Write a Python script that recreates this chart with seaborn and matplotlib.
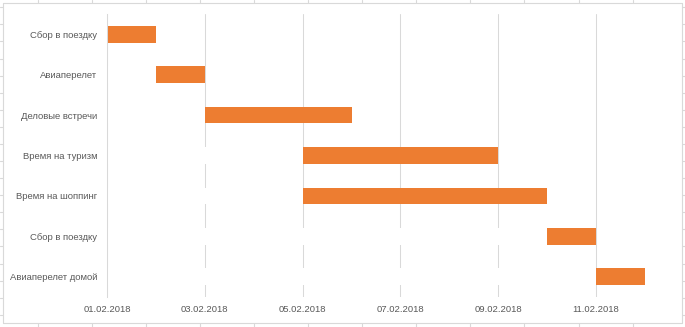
import matplotlib
matplotlib.use("Agg")
import matplotlib.pyplot as plt
import matplotlib.dates as mdates
from matplotlib.lines import Line2D
from matplotlib.patches import Rectangle
import seaborn as sns
import pandas as pd
import numpy as np

# ---- data ----
tasks = ["Сбор в поездку", "Авиаперелет", "Деловые встречи", "Время на туризм",
         "Время на шоппинг", "Сбор в поездку", "Авиаперелет домой"]
start_dates = ["2018-02-01", "2018-02-02", "2018-02-03", "2018-02-05",
               "2018-02-05", "2018-02-10", "2018-02-11"]
durations = [1, 1, 3, 4, 5, 1, 1]
axis_min = "2018-02-01"
axis_max = "2018-02-12"
tick_dates = ["2018-02-01", "2018-02-03", "2018-02-05", "2018-02-07",
              "2018-02-09", "2018-02-11"]

start_num = mdates.date2num(pd.to_datetime(start_dates))
end_num = start_num + np.array(durations)
ids = [str(i) for i in range(len(tasks))]
df = pd.DataFrame({"id": ids, "start": start_num, "end": end_num})

sns.set_theme(style="white")
plt.rcParams["font.family"] = ["Liberation Sans", "DejaVu Sans"]

W, H = 685, 327
fig = plt.figure(figsize=(W / 100, H / 100), dpi=100)
ax = fig.add_axes([107 / W, 1 - 297 / H, (645 - 107) / W, (297 - 14) / H])

orange = "#ED7D31"
grid = "#D9D9D9"
txt = "#595959"

sns.barplot(data=df, x="end", y="id", orient="h", color=orange, saturation=1,
            width=0.41, linewidth=0, ax=ax, order=ids)
sns.barplot(data=df, x="start", y="id", orient="h", color="white", saturation=1,
            width=0.41, linewidth=0, ax=ax, order=ids)

ax.set_xlim(mdates.date2num(pd.Timestamp(axis_min)), mdates.date2num(pd.Timestamp(axis_max)))
ax.set_ylim(len(tasks) - 0.5, -0.5)
ax.set_xticks(mdates.date2num(pd.to_datetime(tick_dates)))
ax.xaxis.set_major_formatter(mdates.DateFormatter("%d.%m.%Y"))
ax.set_yticks(range(len(tasks)))
ax.set_yticklabels(tasks)
ax.set_xlabel("")
ax.set_ylabel("")

ax.set_axisbelow(True)
ax.grid(axis="x", color=grid, linewidth=0.75)
ax.grid(axis="y", visible=False)
for s in ["top", "right", "bottom"]:
    ax.spines[s].set_visible(False)
ax.spines["left"].set_color(grid)
ax.spines["left"].set_linewidth(0.75)
ax.tick_params(axis="both", length=0, labelsize=6.8, labelcolor=txt)
ax.tick_params(axis="x", pad=6)
ax.tick_params(axis="y", pad=7)

# chart frame (decorative)
def px_line(x0, y0, x1, y1):
    fig.add_artist(Line2D([x0 / W, x1 / W], [1 - y0 / H, 1 - y1 / H],
                          color=grid, linewidth=0.8, transform=fig.transFigure))

px_line(3, 2.5, 681.5, 2.5)
px_line(3, 323, 681.5, 323)
px_line(3, 2.5, 3, 323)
px_line(681.5, 2.5, 681.5, 323)
for k in range(13):
    x = 38 + 54.05 * k
    if x < 681:
        px_line(x, 0, x, 2.5)
        px_line(x, 323, x, 327)
for k in range(20):
    y = 7.3 + 17.08 * k
    if y < 323:
        px_line(0, y, 3, y)
        px_line(681.5, y, 685, y)

fig.savefig("out.png", dpi=100)
